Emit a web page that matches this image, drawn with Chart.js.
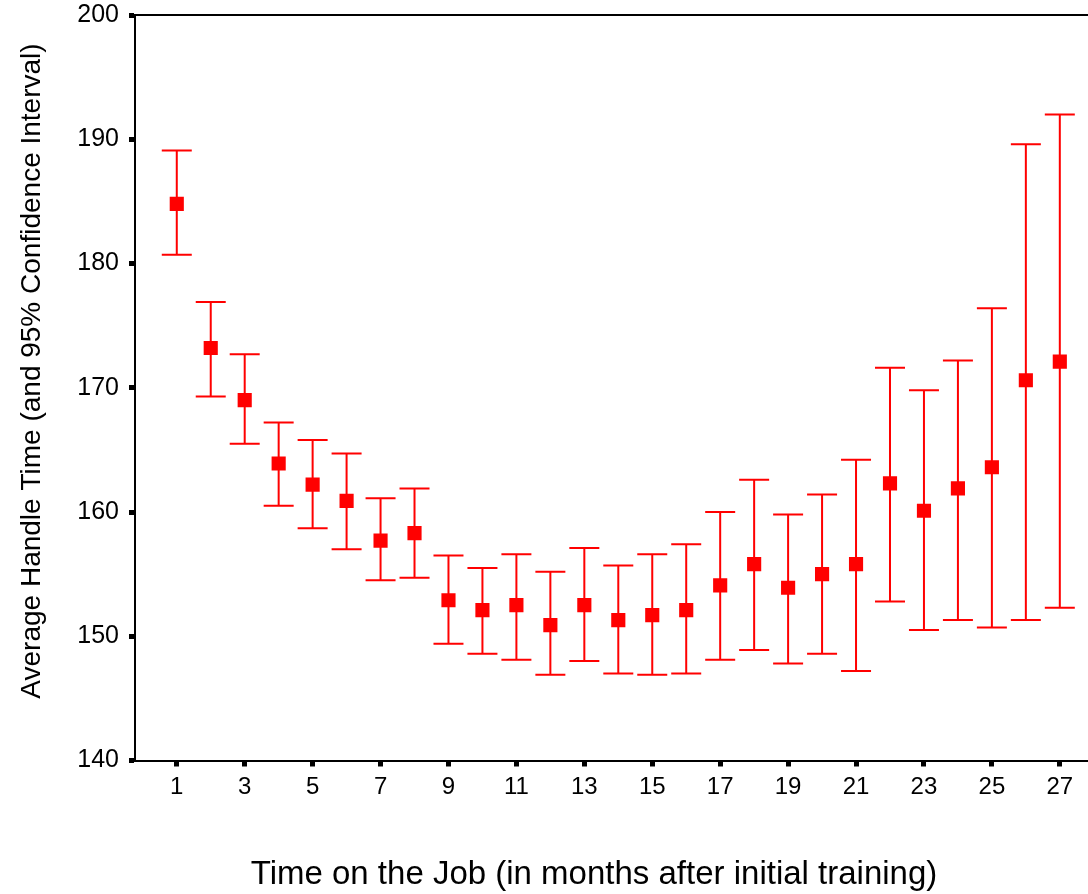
<!DOCTYPE html>
<html>
<head>
<meta charset="utf-8">
<script src="https://cdn.jsdelivr.net/npm/chart.js@4/dist/chart.umd.min.js"></script>
<style>
  html, body { margin: 0; padding: 0; background: #fff; }
  #wrap { position: absolute; left: 0; top: 0; width: 1088px; height: 894px; }
</style>
</head>
<body>
<div id="wrap"><canvas id="c" width="1088" height="894"></canvas></div>
<script>
// ---- data ----
const months = [1,2,3,4,5,6,7,8,9,10,11,12,13,14,15,16,17,18,19,20,21,22,23,24,25,26,27];
const meanValues = [184.8,173.2,169.0,163.9,162.2,160.9,157.7,158.3,152.9,152.1,152.5,150.9,152.5,151.3,151.7,152.1,154.1,155.8,153.9,155.0,155.8,162.3,160.1,161.9,163.6,170.6,172.1];
const upperCI = [189.1,176.9,172.7,167.2,165.8,164.7,161.1,161.9,156.5,155.5,156.6,155.2,157.1,155.7,156.6,157.4,160.0,162.6,159.8,161.4,164.2,171.6,169.8,172.2,176.4,189.6,192.0];
const lowerCI = [180.7,169.3,165.5,160.5,158.7,157.0,154.5,154.7,149.4,148.6,148.1,146.9,148.0,147.0,146.9,147.0,148.1,148.9,147.8,148.6,147.2,152.8,150.5,151.3,150.7,151.3,152.3];
const xTickLabels = [1,3,5,7,9,11,13,15,17,19,21,23,25,27];
const yTickLabels = [140,150,160,170,180,190,200];
const xTitle = 'Time on the Job (in months after initial training)';
const yTitle = 'Average Handle Time (and 95% Confidence Interval)';

const RED = '#ff0000';
const FONT = "'Liberation Sans', Arial, sans-serif";

const errorBars = {
  id: 'errorBars',
  beforeDatasetsDraw(chart) {
    const {ctx, scales: {x, y}} = chart;
    ctx.save();
    ctx.strokeStyle = RED;
    ctx.lineWidth = 2;
    months.forEach((m, i) => {
      const px = x.getPixelForValue(m);
      const pTop = y.getPixelForValue(upperCI[i]);
      const pBot = y.getPixelForValue(lowerCI[i]);
      ctx.beginPath();
      ctx.moveTo(px, pTop); ctx.lineTo(px, pBot);
      ctx.moveTo(px - 15, pTop); ctx.lineTo(px + 15, pTop);
      ctx.moveTo(px - 15, pBot); ctx.lineTo(px + 15, pBot);
      ctx.stroke();
    });
    ctx.restore();
  },
  afterDraw(chart) {
    const {ctx, chartArea} = chart;
    ctx.save();
    // top frame line
    ctx.strokeStyle = '#000';
    ctx.lineWidth = 2;
    ctx.beginPath();
    ctx.moveTo(chartArea.left - 1, chartArea.top);
    ctx.lineTo(chart.width, chartArea.top);
    ctx.stroke();
    // axis titles
    ctx.fillStyle = '#000';
    ctx.textAlign = 'center';
    ctx.textBaseline = 'middle';
    ctx.font = "33px " + FONT;
    ctx.fillText(xTitle, 594, 875);
    ctx.translate(32, 371);
    ctx.rotate(-Math.PI / 2);
    ctx.font = "28px " + FONT;
    ctx.fillText(yTitle, 0, 0);
    ctx.restore();
  }
};

new Chart(document.getElementById('c'), {
  type: 'scatter',
  data: {
    datasets: [{
      label: 'Mean',
      data: months.map((m, i) => ({x: m, y: meanValues[i]})),
      pointStyle: 'rect',
      pointRadius: 10,
      pointHoverRadius: 10,
      backgroundColor: RED,
      borderColor: RED,
      borderWidth: 0,
      showLine: false
    }]
  },
  options: {
    responsive: false,
    devicePixelRatio: 1,
    animation: false,
    layout: { autoPadding: false, padding: { top: 15, left: 0, right: 0, bottom: 0 } },
    plugins: { legend: { display: false }, tooltip: { enabled: false } },
    scales: {
      x: {
        type: 'linear',
        min: -0.23,
        max: 27.83,
        afterFit(s) { s.height = 133.5; s.paddingLeft = 0; s.paddingRight = 0; },
        afterBuildTicks(s) { s.ticks = xTickLabels.map(v => ({value: v})); },
        ticks: {
          color: '#000',
          font: { family: FONT, size: 24 },
          padding: 6,
          maxRotation: 0,
          autoSkip: false,
          callback: v => String(v)
        },
        grid: { drawOnChartArea: false, drawTicks: true, tickLength: 6, tickWidth: 5, tickColor: '#000' },
        border: { display: true, color: '#000', width: 2 },
        title: { display: false }
      },
      y: {
        min: 140,
        max: 200,
        afterFit(s) { s.width = 135; s.paddingTop = 0; s.paddingBottom = 0; },
        afterBuildTicks(s) { s.ticks = yTickLabels.map(v => ({value: v})); },
        ticks: {
          color: '#000',
          font: { family: FONT, size: 25 },
          padding: 10,
          callback: v => String(v)
        },
        grid: { drawOnChartArea: false, drawTicks: true, tickLength: 6, tickWidth: 5, tickColor: '#000' },
        border: { display: true, color: '#000', width: 2 },
        title: { display: false }
      }
    }
  },
  plugins: [errorBars]
});
</script>
</body>
</html>
